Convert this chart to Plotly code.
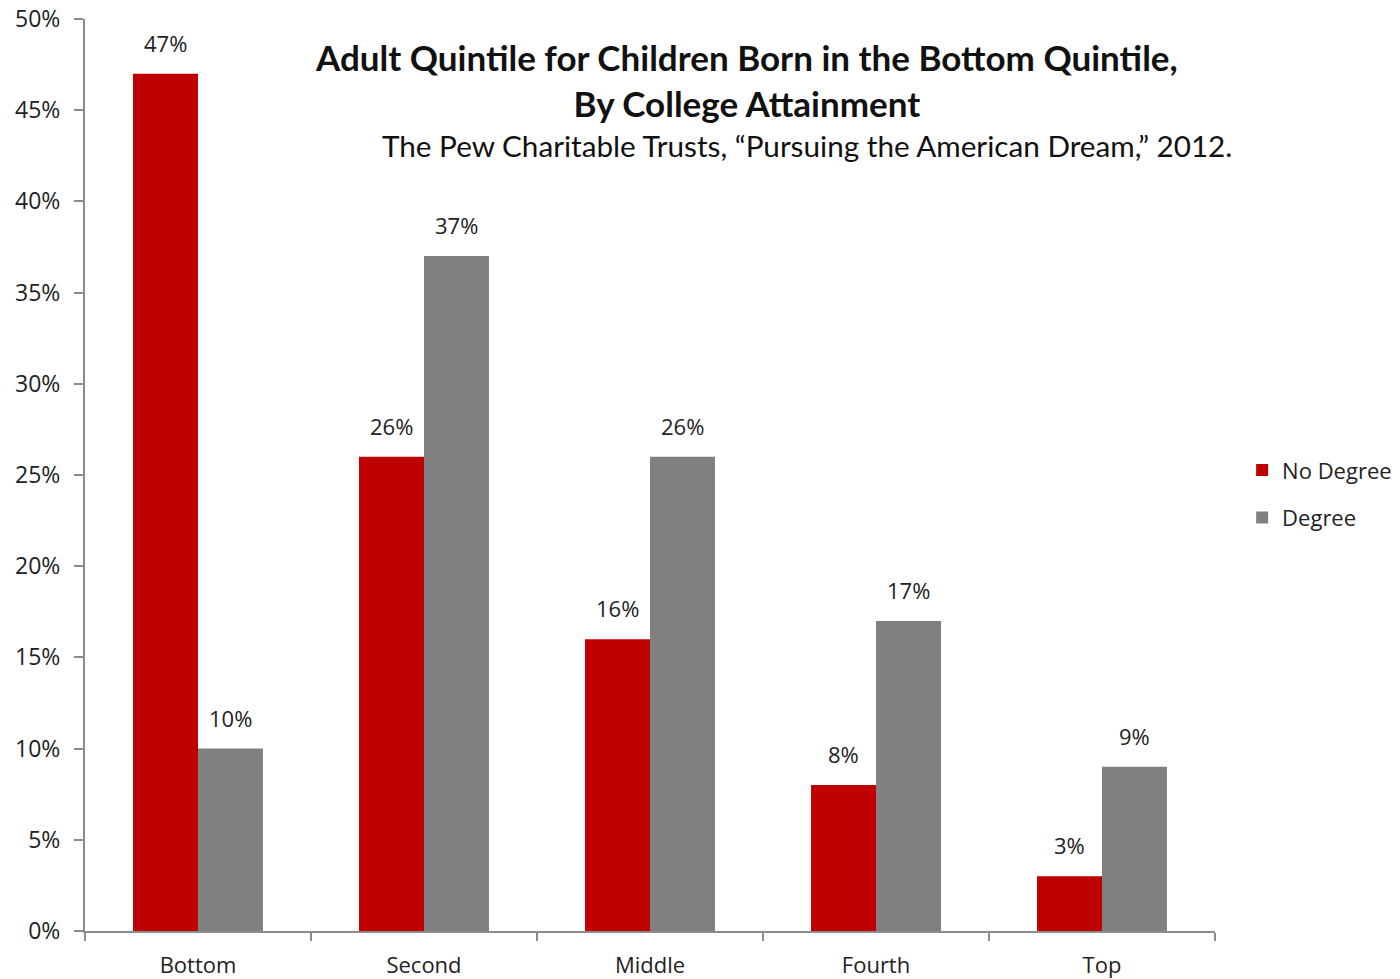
import plotly.graph_objects as go

quintiles = ["Bottom", "Second", "Middle", "Fourth", "Top"]
no_degree = [47, 26, 16, 8, 3]
degree = [10, 37, 26, 17, 9]
y_ticks = [0, 5, 10, 15, 20, 25, 30, 35, 40, 45, 50]
y_tick_text = [f"{v}%" for v in y_ticks]

RED = "#C00000"
GREY = "#808080"
TEXT = "#222222"
label_font = dict(family="Open Sans, sans-serif", size=22, color=TEXT)

fig = go.Figure()
fig.add_trace(go.Bar(
    x=quintiles, y=no_degree, name="No Degree",
    marker=dict(color=RED, line=dict(width=0)), legendgroup="a",
))
fig.add_trace(go.Bar(
    x=quintiles, y=degree, name="Degree",
    marker=dict(color=GREY, line=dict(width=0)), legendgroup="b",
))

# value labels above each bar, shifted onto the left/right bar of each group
for series, shift in ((no_degree, -32.5), (degree, 32.5)):
    for cat, val in zip(quintiles, series):
        fig.add_annotation(
            x=cat, y=val, xref="x", yref="y", text=f"{val}%",
            showarrow=False, xshift=shift, yshift=14, yanchor="bottom",
            font=label_font,
        )

fig.update_layout(
    width=1400, height=979,
    margin=dict(l=85, r=185, t=19, b=48, autoexpand=False),
    paper_bgcolor="white", plot_bgcolor="white",
    barmode="group", bargap=0.425, bargroupgap=0,
    font=dict(family="Open Sans, sans-serif", size=22, color=TEXT),
    legend=dict(
        x=1.024, y=0.479, xanchor="left", yanchor="middle",
        font=dict(family="Open Sans, sans-serif", size=22, color=TEXT),
        tracegroupgap=16, itemwidth=30,
    ),
    xaxis=dict(
        showline=True, linecolor="#8c8c8c", linewidth=2,
        ticks="outside", tickson="boundaries", ticklen=8, tickcolor="#8c8c8c",
        tickwidth=2, tickfont=dict(family="Open Sans, sans-serif", size=22, color=TEXT),
        ticklabelstandoff=14, showgrid=False,
    ),
    yaxis=dict(
        range=[0, 50], tickvals=y_ticks, ticktext=y_tick_text,
        showline=True, linecolor="#8c8c8c", linewidth=2,
        ticks="outside", ticklen=9, tickcolor="#8c8c8c", tickwidth=2,
        tickfont=dict(family="Open Sans, sans-serif", size=23, color=TEXT),
        ticklabelstandoff=9, showgrid=False, zeroline=False,
    ),
)

fig.add_annotation(
    text="<b>Adult Quintile for Children Born in the Bottom Quintile,<br>By College Attainment</b>",
    xref="paper", yref="paper", x=0.585, y=1 + (19 - 34) / 912, xanchor="center", yanchor="top",
    showarrow=False, font=dict(family="Lato, sans-serif", size=35, color="#111111"),
    align="center",
)
fig.add_annotation(
    text="The Pew Charitable Trusts, \u201cPursuing the American Dream,\u201d 2012.",
    xref="paper", yref="paper", x=(807 - 85) / 1130, y=(931 - 145) / 912,
    xanchor="center", yanchor="middle",
    showarrow=False, font=dict(family="Lato, sans-serif", size=29.7, color="#111111"),
)

fig.write_html("out.html")
